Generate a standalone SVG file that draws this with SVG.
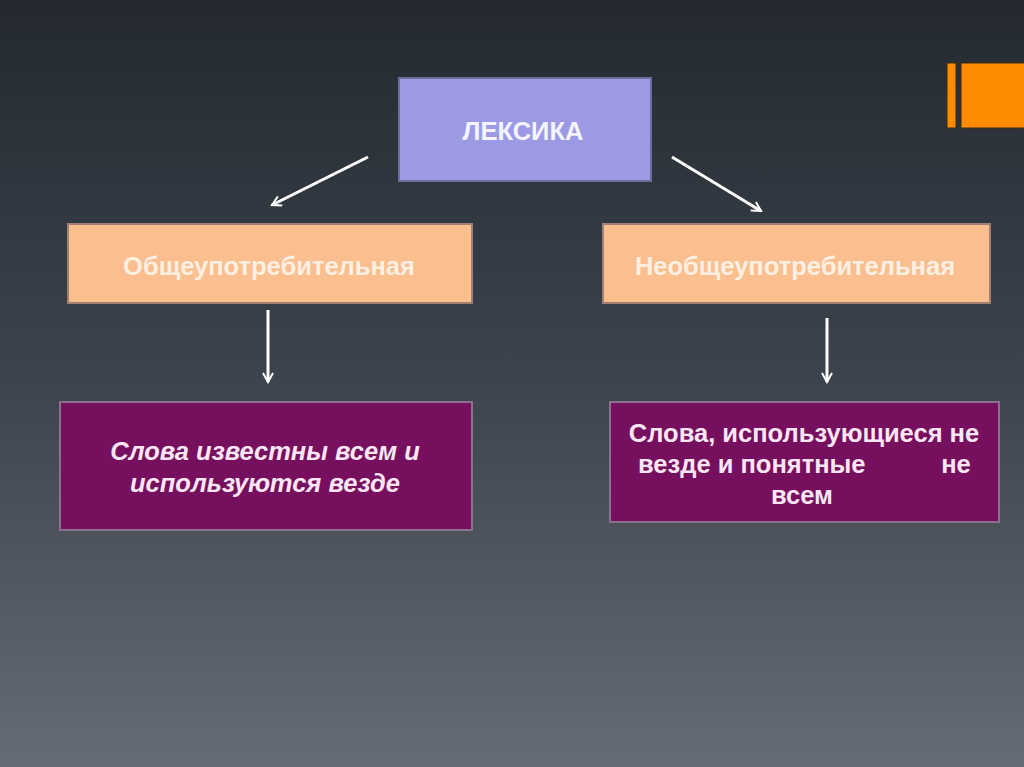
<svg xmlns="http://www.w3.org/2000/svg" width="1024" height="767" viewBox="0 0 1024 767">
<defs>
<linearGradient id="bg" x1="0" y1="0" x2="0" y2="1">
<stop offset="0" stop-color="#242931"/>
<stop offset="0.5" stop-color="#3d444d"/>
<stop offset="1" stop-color="#656b77"/>
</linearGradient>
<marker id="ah" viewBox="0 0 12 12" refX="10" refY="6" markerWidth="12" markerHeight="12" markerUnits="userSpaceOnUse" orient="auto">
<path d="M1,1 L10,6 L1,11" fill="none" stroke="#ffffff" stroke-width="2"/>
</marker>
<style>
.lex{fill:#9c9ae4;stroke:#6f6e9a;stroke-width:2}
.peach{fill:#fbbe8e;stroke:#a08070;stroke-width:2}
.plum{fill:#760f5e;stroke:#8c7090;stroke-width:2}
.t{font-family:"Liberation Sans",Arial,sans-serif;font-weight:bold;text-anchor:middle}
.conn{stroke:#ffffff;stroke-width:3;fill:none;marker-end:url(#ah)}
</style>
</defs>
<rect x="0" y="0" width="1024" height="767" fill="url(#bg)"/>
<g id="accent">
<rect x="947" y="63" width="9" height="65" fill="#ff8c00" stroke="#3a2a10" stroke-width="1"/>
<rect x="961" y="63" width="64" height="65" fill="#ff8c00" stroke="#3a2a10" stroke-width="1"/>
</g>
<g id="connectors">
<line class="conn" x1="368" y1="157" x2="272" y2="205"/>
<line class="conn" x1="672" y1="157" x2="761" y2="211"/>
<line class="conn" x1="268" y1="310" x2="268" y2="382"/>
<line class="conn" x1="827" y1="318" x2="827" y2="382"/>
</g>
<g id="leksika">
<rect class="lex" x="399" y="78" width="252" height="103"/>
<text class="t" x="523" y="140" font-size="25.5" fill="#f4f4fc">ЛЕКСИКА</text>
</g>
<g id="obshche">
<rect class="peach" x="68" y="224" width="404" height="79"/>
<text class="t" x="269" y="275" font-size="25.5" fill="#fdf0e2">Общеупотребительная</text>
</g>
<g id="neobshche">
<rect class="peach" x="603" y="224" width="387" height="79"/>
<text class="t" x="795" y="275" font-size="25.5" fill="#fdf0e2">Необщеупотребительная</text>
</g>
<g id="left-desc">
<rect class="plum" x="60" y="402" width="412" height="128"/>
<text class="t" x="265" y="460" font-size="25.5" font-style="italic" fill="#fbe6f6">Слова известны всем и</text>
<text class="t" x="265" y="492" font-size="25.5" font-style="italic" fill="#fbe6f6">используются везде</text>
</g>
<g id="right-desc">
<rect class="plum" x="610" y="402" width="389" height="120"/>
<text class="t" x="804" y="442" font-size="25.5" fill="#fbe6f6">Слова, использующиеся не</text>
<text class="t" x="638" y="473" font-size="25.5" fill="#fbe6f6" style="text-anchor:start">везде и понятные</text>
<text class="t" x="956" y="473" font-size="25.5" fill="#fbe6f6">не</text>
<text class="t" x="802" y="504" font-size="25.5" fill="#fbe6f6">всем</text>
</g>
</svg>
